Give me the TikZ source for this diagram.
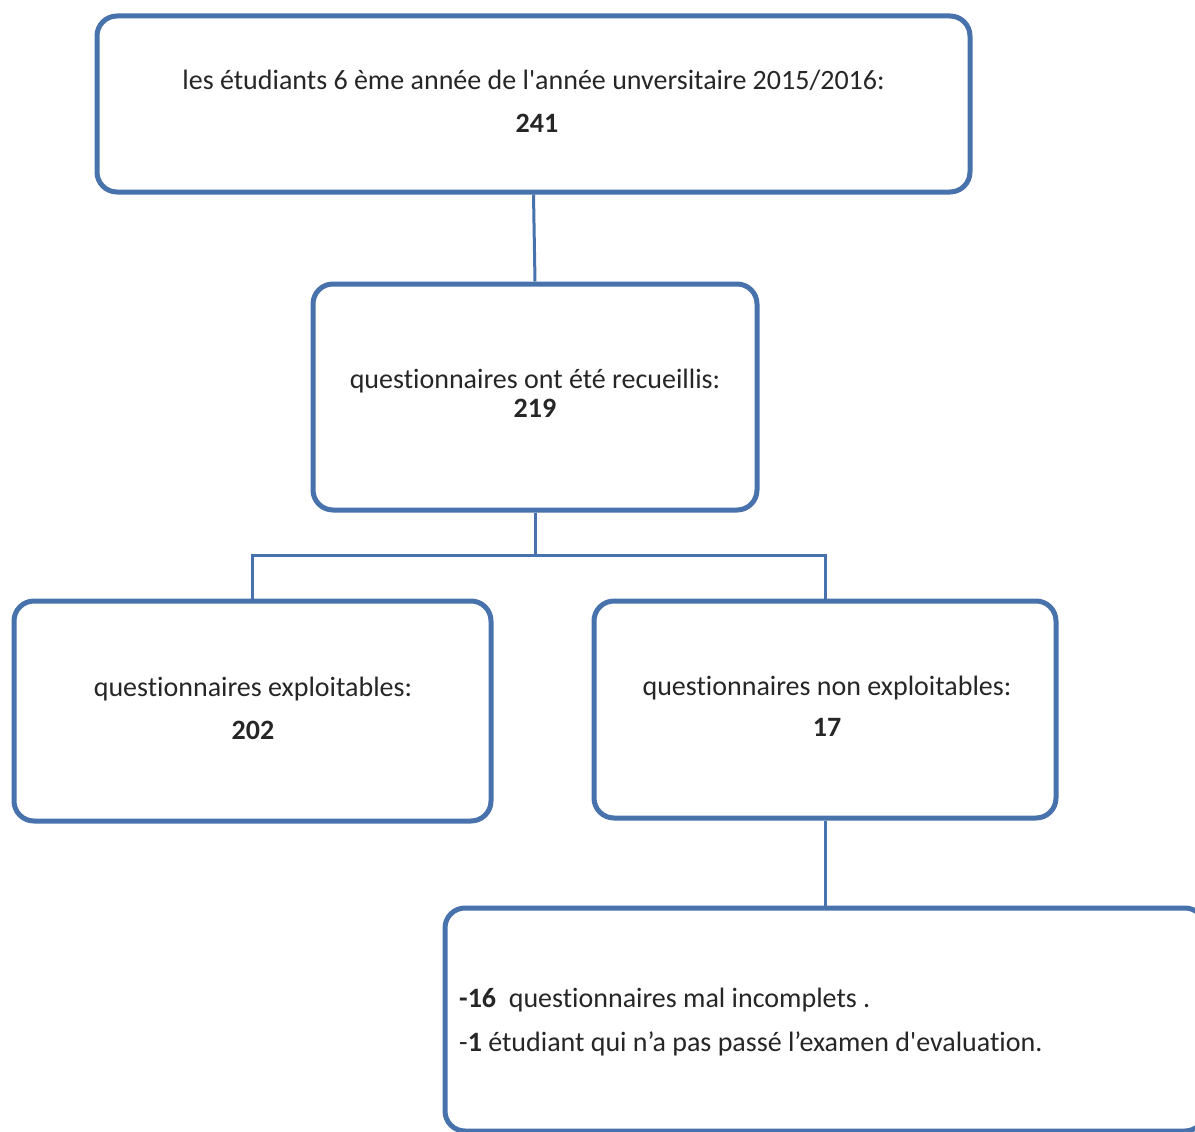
\documentclass[tikz,border=0pt]{standalone}
\usepackage{fontspec}
\setmainfont{Carlito}[Ligatures={TeXOff,NoCommon}]
\definecolor{boxblue}{RGB}{72,114,172}
\definecolor{txt}{RGB}{38,38,38}
\tikzset{
  flowbox/.style={draw=boxblue, line width=5pt, rounded corners=20pt, fill=white, inner sep=0pt},
  link/.style={draw=boxblue, line width=3pt},
  line/.style={text=txt, font=\fontsize{28}{33}\selectfont, inner sep=0pt, text height=20pt, text depth=6pt},
}
\begin{document}
\begin{tikzpicture}[x=1pt,y=-1pt]
\useasboundingbox (0,0) rectangle (1195,1132);
% boxes
\node[flowbox, minimum width=873pt, minimum height=176pt] (top) at (533.5,104) {};
\node[flowbox, minimum width=444pt, minimum height=226pt] (rec) at (535,397) {};
\node[flowbox, minimum width=477pt, minimum height=220pt] (expl) at (252.5,711) {};
\node[flowbox, minimum width=462pt, minimum height=217pt] (nonexpl) at (825,709.5) {};
\node[flowbox, minimum width=760pt, minimum height=223pt] (detail) at (825,1019.5) {};
% connectors
\coordinate (split) at (535,555);
\draw[link] (top.south) -- (rec.north);
\draw[link] (rec.south) -- (split);
\draw[link] (expl.north) |- (split) -| (nonexpl.north);
\draw[link] (nonexpl.south) -- (detail.north);
% texts
\node[line] (t1) at (533.5,83) {les étudiants 6 ème année de l'année unversitaire 2015/2016:};
\node[line] (t1n) at (537,125) {\bfseries 241};
\node[line] (t2) at (535,381) {questionnaires ont été recueillis:};
\node[line] (t2n) at (535,410) {\bfseries 219};
\node[line] (t3) at (253,689) {questionnaires exploitables:};
\node[line] (t3n) at (253,732) {\bfseries 202};
\node[line] (t4) at (827,688) {questionnaires non exploitables:};
\node[line] (t4n) at (827,729) {\bfseries 17};
\node[line, anchor=west] (t5) at (459,1000) {\textbf{-16}\ \ questionnaires mal incomplets .};
\node[line, anchor=west] (t6) at (459,1044) {-\textbf{1} étudiant qui n’a pas passé l’examen d'evaluation.};
\end{tikzpicture}
\end{document}
